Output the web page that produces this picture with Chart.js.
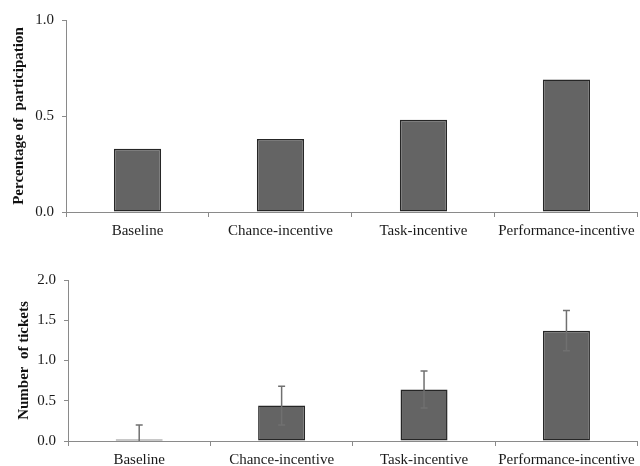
<!DOCTYPE html>
<html>
<head>
<meta charset="utf-8">
<script src="https://cdn.jsdelivr.net/npm/chart.js@4"></script>
<style>
  body { margin: 0; background: #fff; }
  #top { position: absolute; left: 0; top: 0; }
  #bottom { position: absolute; left: 0; top: 240px; }
</style>
</head>
<body>
<canvas id="top" width="640" height="240"></canvas>
<canvas id="bottom" width="640" height="226"></canvas>
<script>
// data
const categories = ["Baseline", "Chance-incentive", "Task-incentive", "Performance-incentive"];
const participation = [0.33, 0.38, 0.48, 0.69];
const tickets = [0.02, 0.44, 0.64, 1.37];
const ticketErrors = [0.18, 0.24, 0.23, 0.25];
const participationTicks = [0, 0.5, 1.0];
const ticketTicks = [0, 0.5, 1.0, 1.5, 2.0];

const serif = "'Liberation Serif', 'Times New Roman', serif";
const axisGrey = "#8a8a8a";

// draws +/- error whiskers, clipped to the plot area
const errorBars = {
    id: "errorBars",
    afterDatasetsDraw(chart, args, opts) {
        if (!opts.errors) return;
        const ctx = chart.ctx;
        const yScale = chart.scales.y;
        const meta = chart.getDatasetMeta(0);
        const values = chart.data.datasets[0].data;
        const area = chart.chartArea;
        ctx.save();
        ctx.beginPath();
        ctx.rect(area.left, area.top, area.right - area.left, area.bottom - area.top);
        ctx.clip();
        ctx.strokeStyle = "#707070";
        ctx.lineWidth = 1.5;
        meta.data.forEach((bar, i) => {
            const hi = yScale.getPixelForValue(values[i] + opts.errors[i]);
            const lo = yScale.getPixelForValue(values[i] - opts.errors[i]);
            ctx.beginPath();
            ctx.moveTo(bar.x, hi);
            ctx.lineTo(bar.x, lo);
            ctx.moveTo(bar.x - 3.5, hi);
            ctx.lineTo(bar.x + 3.5, hi);
            ctx.moveTo(bar.x - 3.5, lo);
            ctx.lineTo(bar.x + 3.5, lo);
            ctx.stroke();
        });
        ctx.restore();
    }
};

function makeChart(canvasId, values, tickVals, maxVal, title, titlePad, padTop, yWidth, xHeight, errors) {
    return new Chart(document.getElementById(canvasId), {
        type: "bar",
        data: {
            labels: categories,
            datasets: [{
                data: values,
                backgroundColor: "#646464",
                borderColor: "#262626",
                borderWidth: 1.5,
                borderSkipped: false,
                categoryPercentage: 1,
                barPercentage: 0.33
            }]
        },
        options: {
            responsive: false,
            animation: false,
            layout: { padding: { top: padTop, right: 2, left: 0, bottom: 0 } },
            plugins: {
                legend: { display: false },
                tooltip: { enabled: false },
                errorBars: { errors: errors }
            },
            scales: {
                x: {
                    grid: { drawOnChartArea: false, drawTicks: true, tickLength: 5, color: axisGrey, offset: true },
                    border: { display: true, color: axisGrey, width: 1 },
                    ticks: { color: "#1a1a1a", font: { family: serif, size: 15 }, padding: 5, maxRotation: 0, autoSkip: false },
                    afterFit: (s) => { s.height = xHeight; }
                },
                y: {
                    min: 0,
                    max: maxVal,
                    afterBuildTicks: (s) => { s.ticks = tickVals.map(v => ({ value: v })); },
                    grid: { drawOnChartArea: false, drawTicks: true, tickLength: 4, color: axisGrey },
                    border: { display: true, color: axisGrey, width: 1 },
                    ticks: {
                        color: "#1a1a1a",
                        font: { family: serif, size: 15 },
                        padding: 8,
                        callback: (v) => Number(v).toFixed(1)
                    },
                    title: {
                        display: true,
                        text: title,
                        color: "#111",
                        font: { family: serif, size: 15, weight: "bold" },
                        padding: { top: titlePad, bottom: 0 }
                    },
                    afterFit: (s) => { s.width = yWidth; }
                }
            }
        },
        plugins: [errorBars]
    });
}

makeChart("top", participation, participationTicks, 1.0, "Percentage of  participation", 10, 20, 66, 28, null);
makeChart("bottom", tickets, ticketTicks, 2.0, "Number  of tickets", 15, 40, 68, 25, ticketErrors);
</script>
</body>
</html>
